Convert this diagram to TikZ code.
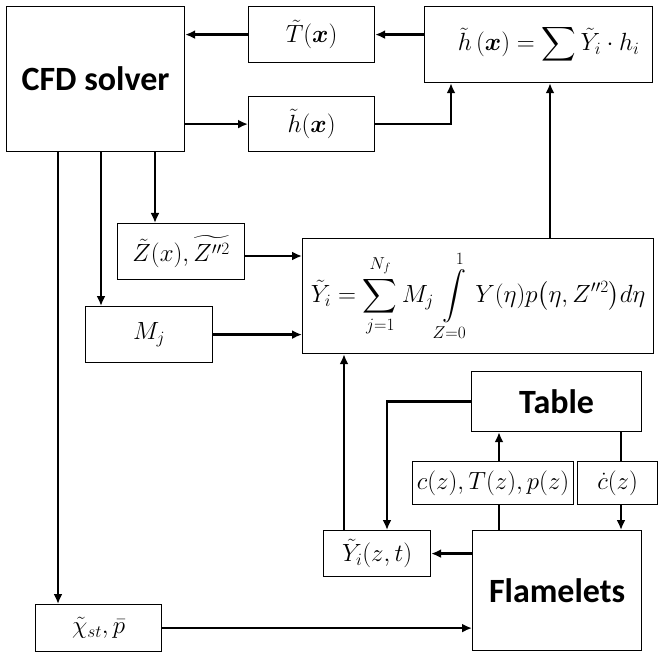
\documentclass[tikz,border=0pt]{standalone}
\usepackage{amsmath,amssymb}
\usepackage{fontspec}
\newfontfamily\labelfont{Carlito}
\usepackage{tikz}
\usetikzlibrary{arrows.meta,positioning,calc}
\tikzset{
  box/.style={draw,line width=1.2pt,anchor=north west,inner sep=0pt,align=center},
  mathbox/.style={box,font=\fontsize{24}{28}\selectfont},
  titlebox/.style={box,font=\labelfont\bfseries\fontsize{34}{40}\selectfont},
  arr/.style={-{Latex[length=10pt,width=9pt]},line width=2.6pt},
  link/.style={line width=2.6pt}
}

\begin{document}
\begin{tikzpicture}[x=1pt,y=-1pt]
  \useasboundingbox (0,0) rectangle (658,652);

  % boxes
  \node[titlebox,minimum width=178pt,minimum height=145pt] (cfd) at (6,6) {CFD solver};
  \node[mathbox,minimum width=126pt,minimum height=56pt] (tx) at (248,6) {$\tilde{T}(\boldsymbol{x})$};
  \node[mathbox,minimum width=126pt,minimum height=55pt] (hx) at (248,96) {$\tilde{h}(\boldsymbol{x})$};
  \node[mathbox,minimum width=228pt,minimum height=76pt] (hsum) at (424,6)
    {\hspace{20pt}$\tilde{h}\,(\boldsymbol{x})=\displaystyle\sum\tilde{Y}_i\cdot h_i$};
  \node[mathbox,minimum width=127pt,minimum height=56pt] (zvar) at (117,223) {$\tilde{Z}(x),\widetilde{Z''^2}$};
  \node[mathbox,minimum width=127pt,minimum height=56pt] (mj) at (85,306) {$M_j$};
  \node[mathbox,minimum width=351pt,minimum height=115pt] (ysum) at (302,238)
    {$\displaystyle\tilde{Y}_i=\sum_{j=1}^{N_f}M_j\int\limits_{Z=0}^{1}Y(\eta)p\big(\eta,Z''^2\big)d\eta$};
  \node[titlebox,minimum width=170pt,minimum height=60pt] (table) at (471,371) {Table};
  \node[mathbox,minimum width=161pt,minimum height=43pt] (cz) at (412,461) {$c(z),T(z),p(z)$};
  \node[mathbox,minimum width=80pt,minimum height=43pt] (cdot) at (577,461) {$\dot{c}(z)$};
  \node[titlebox,minimum width=169pt,minimum height=120pt] (flam) at (472,530) {Flamelets};
  \node[mathbox,minimum width=107pt,minimum height=46pt] (yzt) at (323,530) {$\tilde{Y}_i(z,t)$};
  \node[mathbox,minimum width=126pt,minimum height=47pt] (chi) at (35,604) {$\tilde{\chi}_{st},\bar{p}$};

  % columns of the vertical connectors
  \coordinate (colC) at (58,0);
  \coordinate (colM) at (101,0);
  \coordinate (colZ) at (155,0);
  \coordinate (colH) at (451,0);
  \coordinate (colY) at (550,0);
  \coordinate (colI) at (344,0);
  \coordinate (colT) at (387,0);
  \coordinate (colP) at (499,0);
  \coordinate (colD) at (621,0);

  % connectors
  \draw[arr] (hsum.west |- tx.east) -- (tx.east);
  \draw[arr] (tx.west) -- (tx.west -| cfd.east);
  \draw[arr] (hx.west -| cfd.east) -- (hx.west);
  \draw[arr] (hx.east) -| (hsum.south -| colH);
  \draw[arr] (ysum.north -| colY) -- (hsum.south -| colY);
  \draw[arr] (cfd.south -| colZ) -- (zvar.north -| colZ);
  \draw[arr] (cfd.south -| colM) -- (mj.north -| colM);
  \draw[arr] (cfd.south -| colC) -- (chi.north -| colC);
  \draw[arr] (zvar.east |- 0,256) -- (ysum.west |- 0,256);
  \draw[arr] (mj.east) -- (mj.east -| ysum.west);
  \draw[arr] (chi.east) -- (chi.east -| flam.west);
  \draw[arr] (yzt.east -| flam.west) -- (yzt.east);
  \draw[arr] (yzt.north -| colI) -- (ysum.south -| colI);
  \draw[arr] (table.west) -| (yzt.north -| colT);
  \draw[link] (flam.north -| colP) -- (cz.south -| colP);
  \draw[arr] (cz.north -| colP) -- (table.south -| colP);
  \draw[link] (table.south -| colD) -- (cdot.north -| colD);
  \draw[arr] (cdot.south -| colD) -- (flam.north -| colD);
\end{tikzpicture}
\end{document}
